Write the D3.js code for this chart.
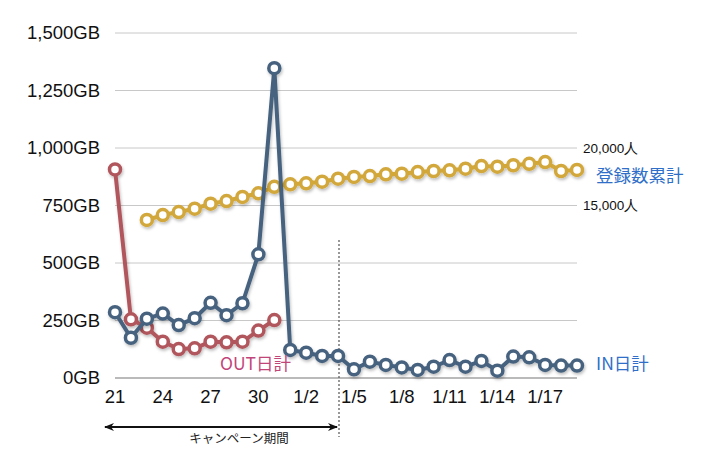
<!DOCTYPE html>
<html><head><meta charset="utf-8">
<script src="https://cdn.jsdelivr.net/npm/d3@7"></script>
<style>body{margin:0;background:#fff}svg{display:block}</style>
</head><body>
<script>
const dates = ["12/21","12/22","12/23","12/24","12/25","12/26","12/27","12/28","12/29","12/30","12/31",
  "1/1","1/2","1/3","1/4","1/5","1/6","1/7","1/8","1/9","1/10","1/11","1/12","1/13","1/14","1/15","1/16","1/17","1/18","1/19"];
const tickDates = ["12/21","12/24","12/27","12/30","1/2","1/5","1/8","1/11","1/14","1/17"];
const tickLabels = ["21","24","27","30","1/2","1/5","1/8","1/11","1/14","1/17"];
const inDaily = [286,175,258,280,230,260,327,273,325,538,1347,122,110,96,96,38,71,57,46,35,49,78,49,74,32,93,90,57,54,54];
const outDaily = [907,255,219,158,126,129,158,155,158,206,252];
const registered = [null,null,13740,14170,14430,14720,15160,15390,15740,16060,16630,16840,16930,17070,17330,17480,
  17560,17710,17770,17910,18000,18060,18200,18430,18370,18500,18630,18780,18000,18090];
const leftTicks = [0,250,500,750,1000,1250,1500];
const rightTicks = [15000,20000];

const W=720,H=463;
const svg=d3.select("body").append("svg").attr("width",W).attr("height",H);
const x=d3.scalePoint().domain(dates).range([115,577]);
const y=d3.scaleLinear().domain([0,1500]).range([378,33]);
const y2=d3.scaleLinear().domain([0,30000]).range([378,33]);
const font="'Liberation Sans', Helvetica, Arial, sans-serif";
const jp="'Noto Sans CJK JP', sans-serif";

const defs=svg.append("defs");
const f=defs.append("filter").attr("id","sh").attr("x","-20%").attr("y","-20%").attr("width","140%").attr("height","140%");
f.append("feDropShadow").attr("dx",1).attr("dy",2).attr("stdDeviation",1.5).attr("flood-color","#000").attr("flood-opacity",0.25);

// gridlines
svg.append("g").selectAll("line").data(leftTicks.filter(d=>d>0)).join("line")
  .attr("x1",115).attr("x2",577).attr("y1",d=>y(d)).attr("y2",d=>y(d))
  .attr("stroke","#c8c8c8").attr("stroke-width",1);
svg.append("line").attr("x1",115).attr("x2",577).attr("y1",y(0)).attr("y2",y(0))
  .attr("stroke","#777").attr("stroke-width",1.2);

// left axis labels
const fmt=d3.format(",");
svg.append("g").selectAll("text").data(leftTicks).join("text")
  .attr("x",100).attr("y",d=>y(d)).attr("dy","0.35em").attr("text-anchor","end")
  .attr("font-family",font).attr("font-size",18.5).attr("fill","#111")
  .text(d=>fmt(d)+"GB");

// right axis labels
svg.append("g").selectAll("text").data(rightTicks).join("text")
  .attr("x",583).attr("y",d=>y2(d)).attr("dy","0.35em")
  .attr("font-family",font).attr("font-size",13.5).attr("fill","#111")
  .text(d=>fmt(d)+"人");

// x labels
svg.append("g").selectAll("text").data(tickDates).join("text")
  .attr("x",d=>x(d)).attr("y",397).attr("dy","0.35em").attr("text-anchor","middle")
  .attr("font-family",font).attr("font-size",18.5).attr("fill","#111")
  .text((d,i)=>tickLabels[i]);

// dotted line & campaign arrow
svg.append("line").attr("x1",339).attr("x2",339).attr("y1",240).attr("y2",437)
  .attr("stroke","#555").attr("stroke-width",1.2).attr("stroke-dasharray","2,2");
const mk=defs.append("marker").attr("id","ah").attr("viewBox","0 0 10 10").attr("refX",9).attr("refY",5)
  .attr("markerWidth",10).attr("markerHeight",10).attr("orient","auto-start-reverse").attr("markerUnits","userSpaceOnUse");
mk.append("path").attr("d","M0,1L10,5L0,9L3,5Z").attr("fill","#111");
svg.append("line").attr("x1",105).attr("x2",337).attr("y1",427).attr("y2",427)
  .attr("stroke","#111").attr("stroke-width",1.8)
  .attr("marker-start","url(#ah)").attr("marker-end","url(#ah)");
svg.append("text").attr("x",239).attr("y",439).attr("dy","0.35em").attr("text-anchor","middle")
  .attr("font-family",jp).attr("font-size",12.5).attr("fill","#222")
  .text("キャンペーン期間");

function series(data,scale,color){
  const pts=data.map((v,i)=>({d:dates[i],v})).filter(p=>p.v!=null);
  const g=svg.append("g").attr("filter","url(#sh)");
  g.append("path").datum(pts)
    .attr("d",d3.line().x(p=>x(p.d)).y(p=>scale(p.v)))
    .attr("fill","none").attr("stroke",color).attr("stroke-width",4).attr("stroke-linejoin","round");
  g.selectAll("circle").data(pts).join("circle")
    .attr("cx",p=>x(p.d)).attr("cy",p=>scale(p.v)).attr("r",5.5)
    .attr("fill","#fff").attr("stroke",color).attr("stroke-width",3.5);
}
series(registered,y2,"#d2a73a");
series(outDaily,y,"#b0575c");
series(inDaily,y,"#46627f");

// series labels
svg.append("text").attr("x",596).attr("y",176).attr("dy","0.35em")
  .attr("font-family",jp).attr("font-size",17.5).attr("fill","#2f6fc9").text("登録数累計");
svg.append("text").attr("x",596).attr("y",364).attr("dy","0.35em")
  .attr("font-family",jp).attr("font-size",17.5).attr("fill","#2f6fc9").text("IN日計");
svg.append("text").attr("x",220).attr("y",364).attr("dy","0.35em")
  .attr("font-family",jp).attr("font-size",17.5).attr("fill","#c2457a").text("OUT日計");
</script>
</body></html>
